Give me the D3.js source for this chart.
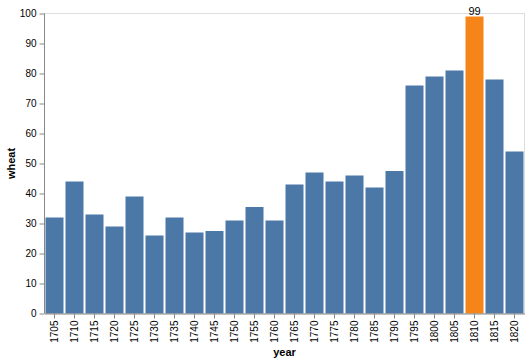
<!DOCTYPE html>
<html>
<head>
<meta charset="utf-8">
<script src="https://cdn.jsdelivr.net/npm/d3@7"></script>
<style>
body { margin: 0; background: #fff; }
text { font-family: "Liberation Sans", Arial, Helvetica, sans-serif; }
</style>
</head>
<body>
<div id="graph"></div>
<script>
var years = [1705, 1710, 1715, 1720, 1725, 1730, 1735, 1740, 1745, 1750, 1755, 1760,
  1765, 1770, 1775, 1780, 1785, 1790, 1795, 1800, 1805, 1810, 1815, 1820]
var wheat = [32, 44, 33, 29, 39, 26, 32, 27, 27.5, 31, 35.5, 31,
  43, 47, 44, 46, 42, 47.5, 76, 79, 81, 99, 78, 54]
var yTicks = [0, 10, 20, 30, 40, 50, 60, 70, 80, 90, 100]
var highlightYear = 1810

var width = 529, height = 363
var margin = {top: 13.5, left: 44.5, right: 4.5, bottom: 49.5}
var w = width - margin.left - margin.right
var h = height - margin.top - margin.bottom

var svg = d3.select("#graph").append("svg").attr("width", width).attr("height", height)
var g = svg.append("g").attr("transform", "translate(" + margin.left + "," + margin.top + ")")

var x = d3.scaleBand().domain(years).range([0, w]).paddingInner(0.1).paddingOuter(0.05)
var y = d3.scaleLinear().domain([0, 100]).range([h, 0])

// frame
g.append("rect").attr("width", w).attr("height", h)
  .attr("fill", "none").attr("stroke", "#ddd")

var data = years.map(function(d, i){ return {year: d, wheat: wheat[i]} })

g.selectAll("rect.bar").data(data).enter().append("rect")
  .attr("class", "bar")
  .attr("x", function(d){ return x(d.year) })
  .attr("y", function(d){ return y(d.wheat) })
  .attr("width", x.bandwidth())
  .attr("height", function(d){ return h - y(d.wheat) })
  .attr("fill", function(d){ return d.year === highlightYear ? "#f58518" : "#4c78a8" })

g.selectAll("text.lbl").data(data.filter(function(d){ return d.year === highlightYear }))
  .enter().append("text").attr("class", "lbl")
  .attr("x", function(d){ return x(d.year) + x.bandwidth() / 2 })
  .attr("y", function(d){ return y(d.wheat) - 2 })
  .attr("text-anchor", "middle").attr("font-size", 11).attr("fill", "#000")
  .text(function(d){ return d.wheat })

// y axis
var yAxis = g.append("g").call(d3.axisLeft(y).tickValues(yTicks).tickSize(5).tickPadding(3))
yAxis.selectAll("path, line").attr("stroke", "#888")
yAxis.select(".domain").attr("d", "M0," + h + "V0")
yAxis.selectAll("text").attr("font-size", 10).attr("fill", "#000").attr("font-family", null)

// x axis
var xAxis = g.append("g").attr("transform", "translate(0," + h + ")")
  .call(d3.axisBottom(x).tickSize(5).tickSizeOuter(0))
xAxis.selectAll("path, line").attr("stroke", "#888")
xAxis.selectAll("text").attr("font-size", 10).attr("fill", "#000").attr("font-family", null)
  .attr("transform", "rotate(-90)").attr("text-anchor", "end")
  .attr("x", -7).attr("y", 0).attr("dy", "0.32em")

// titles
svg.append("text").attr("transform", "translate(15," + (margin.top + h / 2) + ") rotate(-90)")
  .attr("text-anchor", "middle").attr("font-size", 11).attr("font-weight", "bold").text("wheat")
svg.append("text").attr("x", margin.left + w / 2).attr("y", 356)
  .attr("text-anchor", "middle").attr("font-size", 11).attr("font-weight", "bold").text("year")
</script>
</body>
</html>
